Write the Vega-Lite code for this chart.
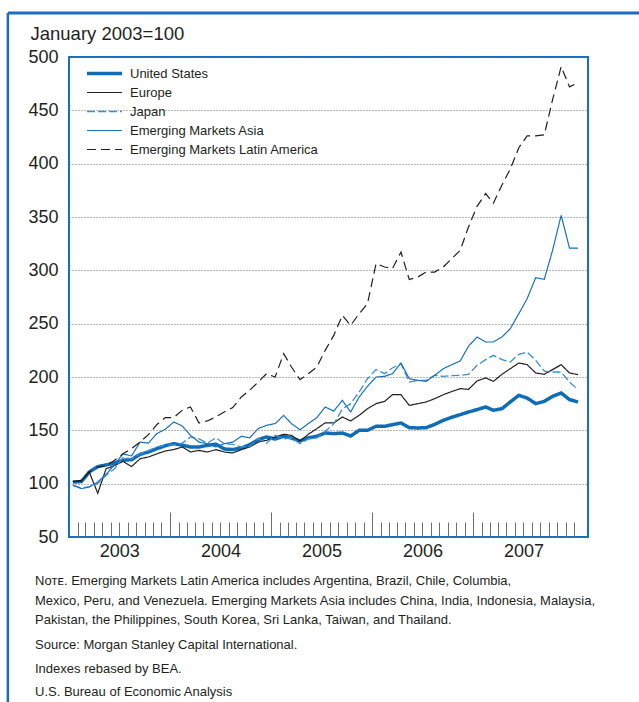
{
  "$schema": "https://vega.github.io/schema/vega-lite/v6.json",
  "width": 519,
  "height": 480,
  "autosize": {"type": "none"},
  "padding": {"left": 69, "top": 57, "right": 51, "bottom": 165},
  "background": "white",
  "config": {
    "font": "Liberation Sans",
    "view": {"stroke": "#1a6fbd", "strokeWidth": 2},
    "axis": {"labelFont": "Liberation Sans", "titleFont": "Liberation Sans", "labelColor": "#231f20", "titleColor": "#231f20"},
    "legend": {
      "orient": "none", "legendX": 16, "legendY": 9, "padding": 0,
      "symbolType": "stroke", "symbolSize": 1225, "clipHeight": 15, "rowPadding": 4,
      "labelOffset": 6, "labelFontSize": 13, "labelFont": "Liberation Sans", "labelColor": "#231f20",
      "labelLimit": 400
    }
  },
  "datasets": {
    "idx": [
      {"date": "2003-01-15", "United States": 101.5, "Europe": 102, "Japan": 98.4, "Emerging Markets Asia": 98.4, "Emerging Markets Latin America": 102},
      {"date": "2003-02-15", "United States": 102, "Europe": 102.5, "Japan": 96, "Emerging Markets Asia": 95.3, "Emerging Markets Latin America": 103},
      {"date": "2003-03-15", "United States": 110.9, "Europe": 111, "Japan": 96.9, "Emerging Markets Asia": 97, "Emerging Markets Latin America": 110.9},
      {"date": "2003-04-15", "United States": 116, "Europe": 91, "Japan": 100, "Emerging Markets Asia": 101.6, "Emerging Markets Latin America": 115.6},
      {"date": "2003-05-15", "United States": 117.5, "Europe": 114, "Japan": 107.8, "Emerging Markets Asia": 108.8, "Emerging Markets Latin America": 117},
      {"date": "2003-06-15", "United States": 119.4, "Europe": 117, "Japan": 114, "Emerging Markets Asia": 118, "Emerging Markets Latin America": 122},
      {"date": "2003-07-15", "United States": 122, "Europe": 121, "Japan": 124.4, "Emerging Markets Asia": 128, "Emerging Markets Latin America": 128},
      {"date": "2003-08-15", "United States": 122.5, "Europe": 116, "Japan": 123.4, "Emerging Markets Asia": 126, "Emerging Markets Latin America": 132.8},
      {"date": "2003-09-15", "United States": 127.5, "Europe": 123.4, "Japan": 128, "Emerging Markets Asia": 139, "Emerging Markets Latin America": 139},
      {"date": "2003-10-15", "United States": 129.7, "Europe": 125, "Japan": 131, "Emerging Markets Asia": 138, "Emerging Markets Latin America": 146},
      {"date": "2003-11-15", "United States": 132.8, "Europe": 128, "Japan": 134.4, "Emerging Markets Asia": 147, "Emerging Markets Latin America": 155.5},
      {"date": "2003-12-15", "United States": 135.6, "Europe": 130.6, "Japan": 136, "Emerging Markets Asia": 151, "Emerging Markets Latin America": 162},
      {"date": "2004-01-15", "United States": 137.5, "Europe": 132, "Japan": 136.6, "Emerging Markets Asia": 157.8, "Emerging Markets Latin America": 162},
      {"date": "2004-02-15", "United States": 136, "Europe": 134.4, "Japan": 138, "Emerging Markets Asia": 154, "Emerging Markets Latin America": 169},
      {"date": "2004-03-15", "United States": 134.4, "Europe": 129.7, "Japan": 143.8, "Emerging Markets Asia": 145.3, "Emerging Markets Latin America": 171.9},
      {"date": "2004-04-15", "United States": 134.4, "Europe": 131.2, "Japan": 142, "Emerging Markets Asia": 139, "Emerging Markets Latin America": 156.9},
      {"date": "2004-05-15", "United States": 136, "Europe": 129.7, "Japan": 138, "Emerging Markets Asia": 137.5, "Emerging Markets Latin America": 158.8},
      {"date": "2004-06-15", "United States": 137, "Europe": 131.9, "Japan": 143, "Emerging Markets Asia": 134.4, "Emerging Markets Latin America": 162.5},
      {"date": "2004-07-15", "United States": 132.5, "Europe": 129.7, "Japan": 137.5, "Emerging Markets Asia": 137.5, "Emerging Markets Latin America": 167.2},
      {"date": "2004-08-15", "United States": 132, "Europe": 128.8, "Japan": 136.9, "Emerging Markets Asia": 139, "Emerging Markets Latin America": 171.3},
      {"date": "2004-09-15", "United States": 133.4, "Europe": 131.9, "Japan": 134.4, "Emerging Markets Asia": 144.4, "Emerging Markets Latin America": 181.3},
      {"date": "2004-10-15", "United States": 136.6, "Europe": 134.4, "Japan": 134.4, "Emerging Markets Asia": 143, "Emerging Markets Latin America": 187.5},
      {"date": "2004-11-15", "United States": 141.3, "Europe": 139, "Japan": 142, "Emerging Markets Asia": 151.6, "Emerging Markets Latin America": 195.3},
      {"date": "2004-12-15", "United States": 143.8, "Europe": 140.6, "Japan": 138, "Emerging Markets Asia": 154.7, "Emerging Markets Latin America": 203.1},
      {"date": "2005-01-15", "United States": 141.9, "Europe": 143.8, "Japan": 145.3, "Emerging Markets Asia": 156.3, "Emerging Markets Latin America": 200},
      {"date": "2005-02-15", "United States": 144.4, "Europe": 146.3, "Japan": 142, "Emerging Markets Asia": 164, "Emerging Markets Latin America": 221.9},
      {"date": "2005-03-15", "United States": 142.8, "Europe": 145.3, "Japan": 143, "Emerging Markets Asia": 156.3, "Emerging Markets Latin America": 209.4},
      {"date": "2005-04-15", "United States": 140, "Europe": 140, "Japan": 137.5, "Emerging Markets Asia": 150.6, "Emerging Markets Latin America": 197.5},
      {"date": "2005-05-15", "United States": 143, "Europe": 146.3, "Japan": 142, "Emerging Markets Asia": 156.3, "Emerging Markets Latin America": 203.1},
      {"date": "2005-06-15", "United States": 144.4, "Europe": 151.6, "Japan": 143, "Emerging Markets Asia": 161.9, "Emerging Markets Latin America": 209.4},
      {"date": "2005-07-15", "United States": 147.5, "Europe": 157, "Japan": 149, "Emerging Markets Asia": 171.9, "Emerging Markets Latin America": 225},
      {"date": "2005-08-15", "United States": 146.9, "Europe": 156.9, "Japan": 156, "Emerging Markets Asia": 168, "Emerging Markets Latin America": 239},
      {"date": "2005-09-15", "United States": 147.5, "Europe": 162.5, "Japan": 170, "Emerging Markets Asia": 178.1, "Emerging Markets Latin America": 257.8},
      {"date": "2005-10-15", "United States": 144.7, "Europe": 158.8, "Japan": 175, "Emerging Markets Asia": 167.2, "Emerging Markets Latin America": 248.4},
      {"date": "2005-11-15", "United States": 150, "Europe": 164.1, "Japan": 186, "Emerging Markets Asia": 181.3, "Emerging Markets Latin America": 259.4},
      {"date": "2005-12-15", "United States": 150, "Europe": 170.3, "Japan": 198.4, "Emerging Markets Asia": 191.3, "Emerging Markets Latin America": 268.8},
      {"date": "2006-01-15", "United States": 153.8, "Europe": 175, "Japan": 207, "Emerging Markets Asia": 200, "Emerging Markets Latin America": 306.3},
      {"date": "2006-02-15", "United States": 153.8, "Europe": 177.2, "Japan": 203.1, "Emerging Markets Asia": 200.6, "Emerging Markets Latin America": 303.1},
      {"date": "2006-03-15", "United States": 155.3, "Europe": 183.4, "Japan": 208.4, "Emerging Markets Asia": 203.1, "Emerging Markets Latin America": 301.6},
      {"date": "2006-04-15", "United States": 156.9, "Europe": 183.4, "Japan": 212.5, "Emerging Markets Asia": 213.1, "Emerging Markets Latin America": 317.2},
      {"date": "2006-05-15", "United States": 152.5, "Europe": 173.4, "Japan": 195.3, "Emerging Markets Asia": 198.4, "Emerging Markets Latin America": 291.3},
      {"date": "2006-06-15", "United States": 152.2, "Europe": 175, "Japan": 196.9, "Emerging Markets Asia": 196.9, "Emerging Markets Latin America": 293.8},
      {"date": "2006-07-15", "United States": 152.5, "Europe": 176.6, "Japan": 196.9, "Emerging Markets Asia": 195.9, "Emerging Markets Latin America": 298.4},
      {"date": "2006-08-15", "United States": 155.6, "Europe": 179.7, "Japan": 201.6, "Emerging Markets Asia": 201.6, "Emerging Markets Latin America": 298.4},
      {"date": "2006-09-15", "United States": 159.4, "Europe": 183.4, "Japan": 200.6, "Emerging Markets Asia": 207.8, "Emerging Markets Latin America": 303.1},
      {"date": "2006-10-15", "United States": 162.2, "Europe": 186.3, "Japan": 201.3, "Emerging Markets Asia": 211.5, "Emerging Markets Latin America": 310.9},
      {"date": "2006-11-15", "United States": 164.7, "Europe": 189.1, "Japan": 201.6, "Emerging Markets Asia": 215, "Emerging Markets Latin America": 318.8},
      {"date": "2006-12-15", "United States": 167.2, "Europe": 188.4, "Japan": 202.5, "Emerging Markets Asia": 228.8, "Emerging Markets Latin America": 340.6},
      {"date": "2007-01-15", "United States": 169.4, "Europe": 196.3, "Japan": 210.9, "Emerging Markets Asia": 237.5, "Emerging Markets Latin America": 360},
      {"date": "2007-02-15", "United States": 171.9, "Europe": 199.1, "Japan": 216.3, "Emerging Markets Asia": 232.8, "Emerging Markets Latin America": 372},
      {"date": "2007-03-15", "United States": 168.8, "Europe": 195.9, "Japan": 220.3, "Emerging Markets Asia": 232.8, "Emerging Markets Latin America": 363},
      {"date": "2007-04-15", "United States": 170.3, "Europe": 202.5, "Japan": 216.3, "Emerging Markets Asia": 237.5, "Emerging Markets Latin America": 380},
      {"date": "2007-05-15", "United States": 176.6, "Europe": 207.8, "Japan": 214.1, "Emerging Markets Asia": 245.3, "Emerging Markets Latin America": 395},
      {"date": "2007-06-15", "United States": 182.8, "Europe": 213.1, "Japan": 221.3, "Emerging Markets Asia": 259.4, "Emerging Markets Latin America": 415},
      {"date": "2007-07-15", "United States": 180.3, "Europe": 211.6, "Japan": 223.4, "Emerging Markets Asia": 273.4, "Emerging Markets Latin America": 426},
      {"date": "2007-08-15", "United States": 175, "Europe": 203.8, "Japan": 215.6, "Emerging Markets Asia": 293.1, "Emerging Markets Latin America": 426},
      {"date": "2007-09-15", "United States": 177.2, "Europe": 202.5, "Japan": 205.6, "Emerging Markets Asia": 291.6, "Emerging Markets Latin America": 427},
      {"date": "2007-10-15", "United States": 181.9, "Europe": 206.9, "Japan": 204.7, "Emerging Markets Asia": 318.8, "Emerging Markets Latin America": 460},
      {"date": "2007-11-15", "United States": 185, "Europe": 211.6, "Japan": 204.7, "Emerging Markets Asia": 351.6, "Emerging Markets Latin America": 491},
      {"date": "2007-12-15", "United States": 178.8, "Europe": 203.8, "Japan": 195.3, "Emerging Markets Asia": 320.9, "Emerging Markets Latin America": 472},
      {"date": "2008-01-15", "United States": 176.6, "Europe": 202.2, "Japan": 188.1, "Emerging Markets Asia": 320.9, "Emerging Markets Latin America": 476}
    ]
  },
  "title": {
    "text": ["Nᴏᴛᴇ. Emerging Markets Latin America includes Argentina, Brazil, Chile, Columbia,", "Mexico, Peru, and Venezuela. Emerging Markets Asia includes China, India, Indonesia, Malaysia,", "Pakistan, the Philippines, South Korea, Sri Lanka, Taiwan, and Thailand."],
    "subtitle": ["Source: Morgan Stanley Capital International.", "Indexes rebased by BEA.", "U.S. Bureau of Economic Analysis"],
    "orient": "bottom",
    "anchor": "start",
    "frame": "group",
    "dx": -34,
    "offset": -128,
    "font": "Liberation Sans",
    "fontSize": 13,
    "fontWeight": "normal",
    "color": "#231f20",
    "lineHeight": 19.5,
    "subtitleFont": "Liberation Sans",
    "subtitleFontSize": 13,
    "subtitleColor": "#231f20",
    "subtitleLineHeight": 23.5,
    "subtitlePadding": 12
  },
  "layer": [
    {
      "data": {"name": "idx"},
      "transform": [{"fold": ["United States", "Europe", "Japan", "Emerging Markets Asia", "Emerging Markets Latin America"], "as": ["series", "value"]}],
      "mark": {"type": "line"},
      "encoding": {
        "x": {
          "field": "date", "type": "temporal",
          "scale": {"domain": [{"year": 2003, "month": 1, "date": 1}, {"year": 2008, "month": 2, "date": 20}]},
          "axis": {
            "orient": "bottom", "title": null, "labels": false, "domain": false, "grid": false,
            "ticks": true, "tickCount": {"interval": "month", "step": 1},
            "tickSize": -15, "tickColor": "#6d6e71", "tickWidth": 1,
            "tickOpacity": {"condition": {"test": "datum.value < datetime(2003,0,15) || datum.value > datetime(2008,0,15)", "value": 0}, "value": 1}
          }
        },
        "y": {
          "field": "value", "type": "quantitative",
          "scale": {"domain": [50, 500], "nice": false, "zero": false},
          "axis": {
            "values": [50, 100, 150, 200, 250, 300, 350, 400, 450, 500],
            "ticks": false, "domain": false, "labelPadding": 11, "labelFontSize": 18,
            "grid": true, "gridDash": [1, 2], "gridColor": "#6d6e71", "gridWidth": 1,
            "title": "January 2003=100", "titleAngle": 0, "titleAlign": "left", "titleBaseline": "middle",
            "titleX": -39, "titleY": -24, "titleFontSize": 18.5, "titleFontWeight": "normal"
          }
        },
        "color": {
          "field": "series", "type": "nominal",
          "scale": {"domain": ["United States", "Europe", "Japan", "Emerging Markets Asia", "Emerging Markets Latin America"], "range": ["#0f6cb6", "#231f20", "#3b8fd4", "#1672c4", "#231f20"]},
          "legend": {"title": null}
        },
        "strokeDash": {
          "field": "series", "type": "nominal",
          "scale": {"domain": ["United States", "Europe", "Japan", "Emerging Markets Asia", "Emerging Markets Latin America"], "range": [[1, 0], [1, 0], [8, 3], [1, 0], [9, 5]]},
          "legend": {"title": null}
        },
        "strokeWidth": {
          "field": "series", "type": "nominal",
          "scale": {"type": "ordinal", "domain": ["United States", "Europe", "Japan", "Emerging Markets Asia", "Emerging Markets Latin America"], "range": [3.5, 1.2, 1.3, 1.2, 1.2]},
          "legend": {"title": null}
        }
      }
    },
    {
      "data": {"name": "idx"},
      "mark": {"type": "point", "opacity": 0},
      "encoding": {
        "x": {
          "field": "date", "type": "temporal",
          "axis": {
            "orient": "bottom", "title": null, "labels": false, "domain": false, "grid": false,
            "ticks": true, "tickSize": -25, "tickColor": "#6d6e71", "tickWidth": 1,
            "values": [{"year": 2004, "month": 1, "date": 1}, {"year": 2005, "month": 1, "date": 1}, {"year": 2006, "month": 1, "date": 1}, {"year": 2007, "month": 1, "date": 1}]
          }
        },
        "y": {"field": "United States", "type": "quantitative", "axis": null}
      }
    },
    {
      "data": {"name": "idx"},
      "mark": {"type": "point", "opacity": 0},
      "encoding": {
        "x": {
          "field": "date", "type": "temporal",
          "axis": {
            "orient": "bottom", "title": null, "ticks": false, "domain": false, "grid": false,
            "labelFontSize": 18, "labelPadding": 5, "format": "%Y",
            "values": [{"year": 2003, "month": 7, "date": 2}, {"year": 2004, "month": 7, "date": 2}, {"year": 2005, "month": 7, "date": 2}, {"year": 2006, "month": 7, "date": 2}, {"year": 2007, "month": 7, "date": 2}]
          }
        },
        "y": {"field": "United States", "type": "quantitative", "axis": null}
      }
    },
    {
      "data": {"values": [{}]},
      "mark": {"type": "rule", "color": "#1a6fbd", "strokeWidth": 3, "clip": false},
      "encoding": {
        "x": {"datum": {"year": 2002, "month": 5, "date": 25}, "type": "temporal", "axis": null},
        "x2": {"datum": {"year": 2008, "month": 12, "date": 31}},
        "y": {"datum": 541.25, "type": "quantitative", "axis": null}
      }
    },
    {
      "data": {"values": [{}]},
      "mark": {"type": "rule", "color": "#1a6fbd", "strokeWidth": 2.5, "clip": false},
      "encoding": {
        "x": {"datum": {"year": 2002, "month": 5, "date": 25}, "type": "temporal", "axis": null},
        "y": {"datum": 541.25, "type": "quantitative", "axis": null},
        "y2": {"datum": -104.69}
      }
    }
  ],
  "resolve": {"axis": {"x": "independent", "y": "independent"}}
}
